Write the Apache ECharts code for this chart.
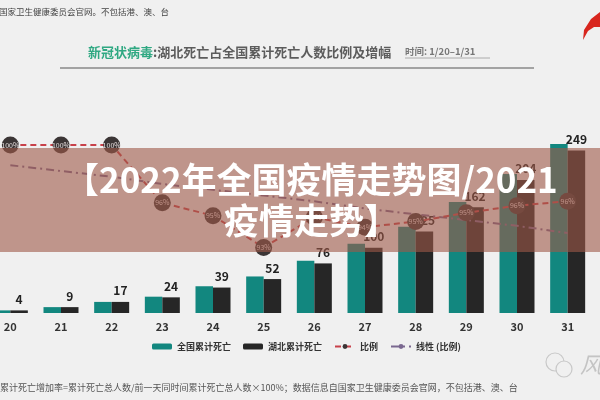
<!DOCTYPE html>
<html>
<head>
<meta charset="utf-8">
<script src="https://cdn.jsdelivr.net/npm/echarts@6/dist/echarts.min.js"></script>
<style>
  html, body { margin: 0; padding: 0; background: #f0f0f0; }
  #chart { width: 600px; height: 400px; }
</style>
</head>
<body>
<div id="chart"></div>
<script>
// 日期（1月）
const days = ['20', '21', '22', '23', '24', '25', '26', '27', '28', '29', '30', '31']
// 全国累计死亡
const nationDeaths = [4, 9, 17, 25, 41, 56, 80, 106, 132, 170, 213, 259]
// 湖北累计死亡
const hubeiDeaths = [4, 9, 17, 24, 39, 52, 76, 100, 125, 162, 204, 249]
// 湖北占比（%）及显示文字
const ratio = [100, 100, 100, 96, 95.1, 92.9, 95, 94.3, 94.7, 95.3, 95.8, 96.1]
const ratioLabels = ['100%', '100%', '100%', '96%', '95%', '93%', '95%', '94%', '95%', '95%', '96%', '96%']
// 线性（比例）趋势线
const ratioTrend = [98.6, 98.2, 97.8, 97.3, 96.9, 96.5, 96.1, 95.6, 95.2, 94.8, 94.4, 93.9]

const font = '"Noto Sans CJK SC", "Noto Sans", sans-serif'
const chart = echarts.init(document.getElementById('chart'))

const option = {
  backgroundColor: '#f0f0f0',
  animation: false,
  textStyle: { fontFamily: font },
  grid: { left: -15, width: 608, top: 144, bottom: 87, containLabel: false, outerBoundsMode: 'none' },
  legend: {
    left: 147,
    top: 337,
    itemWidth: 20,
    itemHeight: 6,
    itemGap: 12,
    textStyle: { fontSize: 9, fontWeight: 'bold', color: '#333', fontFamily: font },
    data: ['全国累计死亡', '湖北累计死亡', '比例', '线性 (比例)']
  },
  xAxis: {
    type: 'category',
    data: days,
    axisLine: { show: false },
    axisTick: { show: false },
    axisLabel: { color: '#333', fontSize: 11, fontWeight: 'bold', margin: 8 }
  },
  yAxis: [
    { type: 'value', min: 0, max: 259, show: false, splitLine: { show: false } },
    { type: 'value', min: 88.36, max: 100.07, show: false, splitLine: { show: false } }
  ],
  series: [
    {
      name: '全国累计死亡',
      type: 'bar',
      data: nationDeaths,
      barWidth: 17.5,
      barGap: '0%',
      itemStyle: { color: '#12877f' }
    },
    {
      name: '湖北累计死亡',
      type: 'bar',
      data: hubeiDeaths,
      barWidth: 17.5,
      itemStyle: { color: '#262626' },
      label: {
        show: true,
        position: 'top',
        distance: 5,
        color: '#222',
        fontSize: 12,
        fontWeight: 'bold'
      }
    },
    {
      name: '比例',
      type: 'line',
      yAxisIndex: 1,
      data: ratio,
      symbol: 'circle',
      symbolSize: 17,
      lineStyle: { color: '#c8414a', width: 2, type: [6, 4] },
      itemStyle: { color: '#3b3535' },
      label: {
        show: true,
        position: 'inside',
        fontSize: 7,
        color: '#e8e0e0',
        formatter: p => ratioLabels[p.dataIndex]
      },
      z: 4
    },
    {
      name: '线性 (比例)',
      type: 'line',
      yAxisIndex: 1,
      data: ratioTrend,
      symbol: 'none',
      lineStyle: { color: '#7a6890', width: 2, type: [8, 4, 2, 4] },
      itemStyle: { color: '#7a6890' },
      z: 3
    }
  ],
  graphic: [
    {
      type: 'text', left: -1, top: 8,
      style: { text: '国家卫生健康委员会官网。不包括港、澳、台', font: '8.5px ' + font, fill: '#444' }
    },
    {
      type: 'text', x: 88, y: 52,
      style: {
        text: '{g|新冠状病毒}{t|:湖北死亡占全国累计死亡人数比例及增幅}',
        verticalAlign: 'middle',
        rich: {
          g: { fontSize: 13, fontWeight: 'bold', fill: '#2fa882', fontFamily: font },
          t: { fontSize: 13, fontWeight: 'bold', fill: '#5c5c5c', fontFamily: font }
        }
      }
    },
    {
      type: 'text', x: 405, y: 51,
      style: { text: '时间: 1/20–1/31', verticalAlign: 'middle', font: 'bold 9.5px ' + font, fill: '#777' }
    },
    { type: 'line', shape: { x1: 405, y1: 58, x2: 490, y2: 58 }, style: { stroke: '#999', lineWidth: 0.8 } },
    { type: 'line', shape: { x1: 60, y1: 68, x2: 534, y2: 68 }, style: { stroke: '#8a8a8a', lineWidth: 1.5 } },
    {
      type: 'polygon',
      shape: { points: [[600, 12], [591, 19], [584, 30], [583, 40], [588, 31], [594, 27], [600, 27]] },
      style: { fill: '#d8261e' }
    },
    {
      type: 'text', x: 0, y: 388,
      style: {
        text: '累计死亡增加率=累计死亡总人数/前一天同时间累计死亡总人数×100%；数据信息自国家卫生健康委员会官网，不包括港、澳、台',
        verticalAlign: 'middle', font: '9px ' + font, fill: '#555'
      }
    },
    { type: 'circle', shape: { cx: 555, cy: 362, r: 9 }, style: { fill: 'none', stroke: '#c8c8c8', lineWidth: 1.2 } },
    { type: 'circle', shape: { cx: 564, cy: 369, r: 8 }, style: { fill: '#f0f0f0', stroke: '#c8c8c8', lineWidth: 1.2 } },
    {
      type: 'text', x: 580, y: 365,
      style: { text: '风', verticalAlign: 'middle', font: 'italic 22px ' + font, fill: '#c4c4c4' }
    },
    {
      type: 'rect', z: 100,
      shape: { x: 0, y: 148, width: 600, height: 104 },
      style: { fill: 'rgba(159, 88, 72, 0.6)' }
    },
    {
      type: 'text', z: 101, x: 64, y: 180,
      style: { text: '【2022年全国疫情走势图/2021', verticalAlign: 'middle', font: 'bold 35px ' + font, fill: '#ffffff' }
    },
    {
      type: 'text', z: 101, x: 224, y: 221,
      style: { text: '疫情走势】', verticalAlign: 'middle', font: 'bold 35px ' + font, fill: '#ffffff' }
    }
  ]
}

chart.setOption(option)
window.addEventListener('resize', () => chart.resize())
</script>
</body>
</html>
